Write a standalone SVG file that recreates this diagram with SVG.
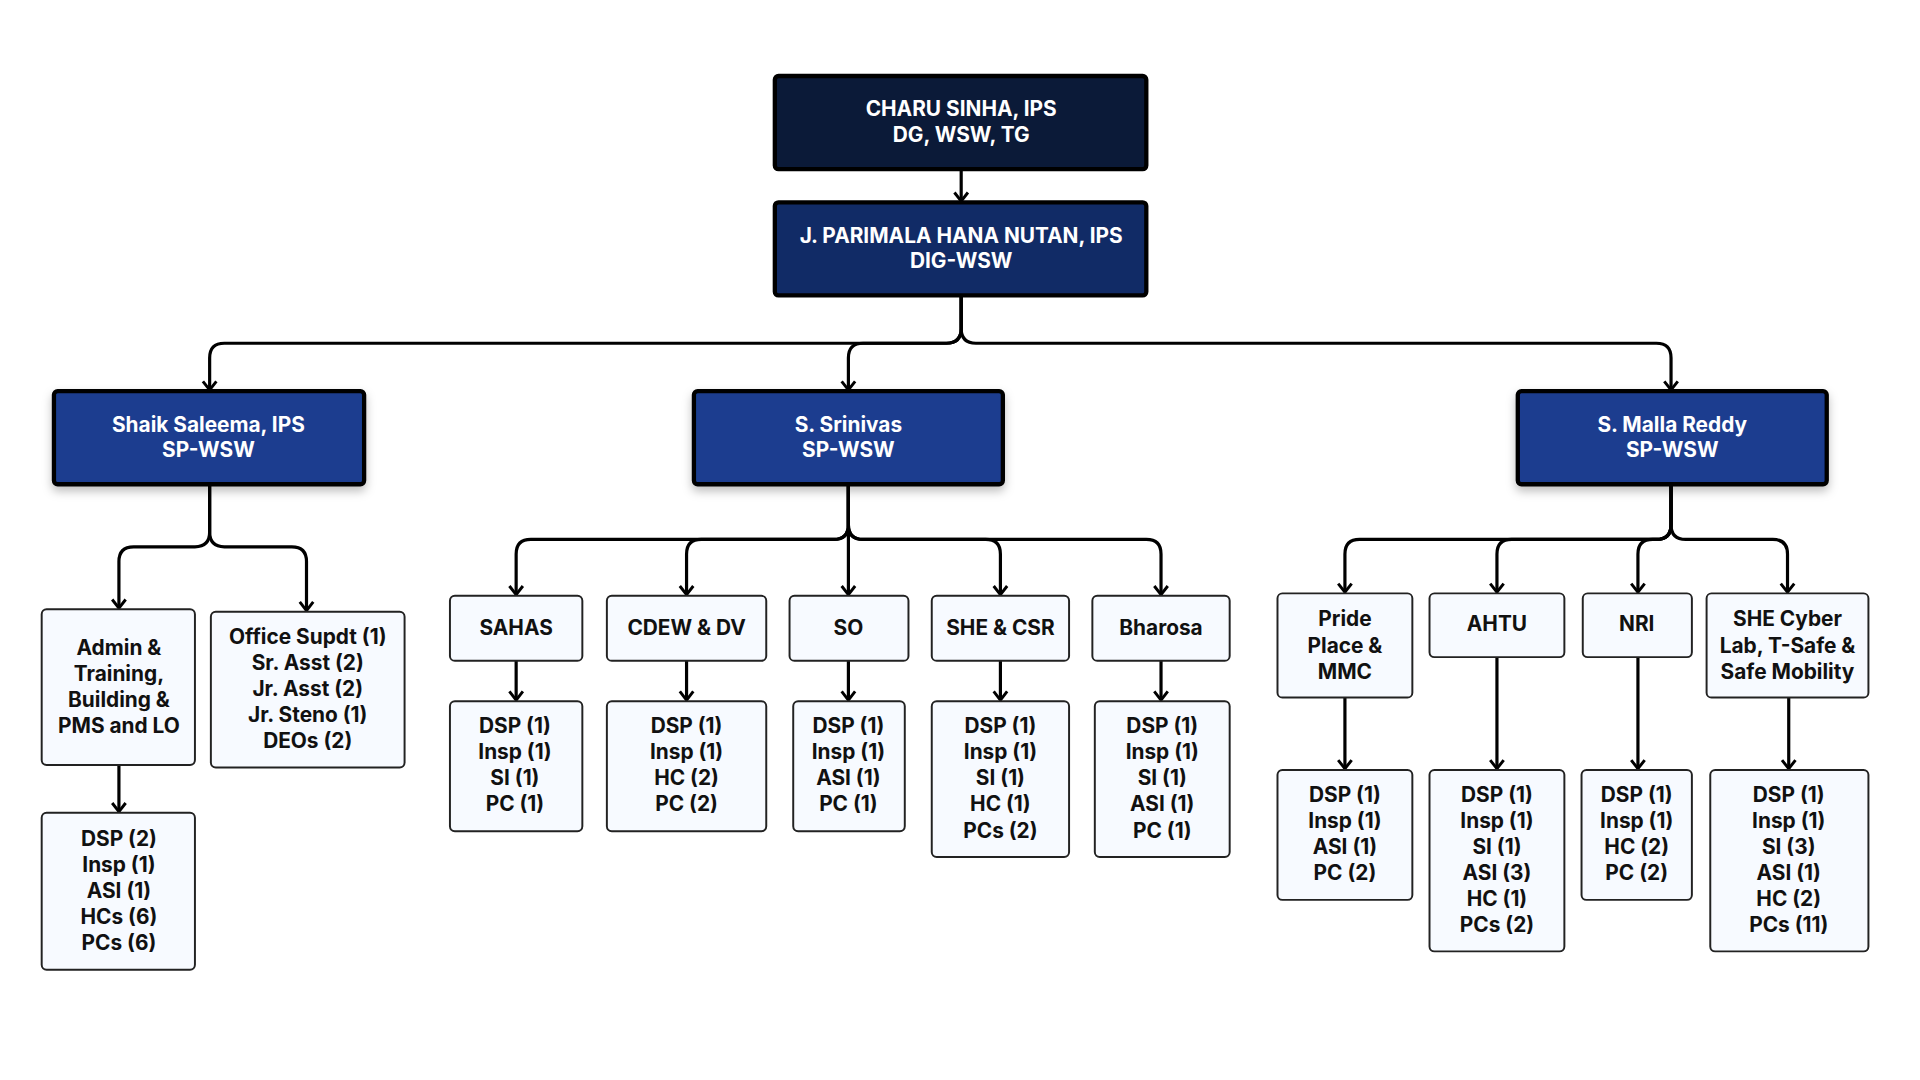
<svg xmlns="http://www.w3.org/2000/svg" width="1920" height="1080" viewBox="0 0 1920 1080">
<defs>
<style>
text{font-family:Inter,"Noto Sans","Liberation Sans",sans-serif;font-weight:700;font-size:17px;text-anchor:middle}
.w{fill:#fff}
.k{fill:#111}
.top{stroke:#000;stroke-width:3.5}
.sp{fill:#1a3e8f;stroke:#000;stroke-width:3.5}
.bx{fill:#f7faff;stroke:#222;stroke-width:1.6}
.c{fill:none;stroke:#000;stroke-width:2.6;marker-end:url(#ah)}
</style>
<marker id="ah" markerUnits="userSpaceOnUse" markerWidth="14" markerHeight="14" refX="0" refY="0" viewBox="-8 -7 10 14" orient="auto">
<path d="M-7,-5.5 L0,0 L-7,5.5" fill="none" stroke="#000" stroke-width="2.4"/>
</marker>
<filter id="sh" x="-10%" y="-10%" width="130%" height="140%"><feDropShadow dx="0" dy="4" stdDeviation="4" flood-opacity="0.25"/></filter>
</defs>
<rect width="1920" height="1080" fill="#fff"/>
<g transform="scale(1.226)">
<g id="connectors">
<path class="c" d="M784,138 V164"/>
<path class="c" d="M784,241 V268 Q784,280 772,280 H183 Q171,280 171,292 V318"/>
<path class="c" d="M784,241 V268 Q784,280 772,280 H704 Q692,280 692,292 V318"/>
<path class="c" d="M784,241 V268 Q784,280 796,280 H1351 Q1363,280 1363,292 V318"/>
<path class="c" d="M171,396 V434 Q171,446 159,446 H109 Q97,446 97,458 V496"/>
<path class="c" d="M171,396 V434 Q171,446 183,446 H238 Q250,446 250,458 V498"/>
<path class="c" d="M97,624 V662"/>
<path class="c" d="M692,396 V428 Q692,440 680,440 H433 Q421,440 421,452 V485"/>
<path class="c" d="M692,396 V428 Q692,440 680,440 H572 Q560,440 560,452 V485"/>
<path class="c" d="M692,396 V485"/>
<path class="c" d="M692,396 V428 Q692,440 704,440 H804 Q816,440 816,452 V485"/>
<path class="c" d="M692,396 V428 Q692,440 704,440 H935 Q947,440 947,452 V485"/>
<path class="c" d="M421,539 V571"/>
<path class="c" d="M560,539 V571"/>
<path class="c" d="M692,539 V571"/>
<path class="c" d="M816,539 V571"/>
<path class="c" d="M947,539 V571"/>
<path class="c" d="M1363,396 V428 Q1363,440 1351,440 H1109 Q1097,440 1097,452 V483"/>
<path class="c" d="M1363,396 V428 Q1363,440 1351,440 H1233 Q1221,440 1221,452 V483"/>
<path class="c" d="M1363,396 V428 Q1363,440 1351,440 H1348 Q1336,440 1336,452 V483"/>
<path class="c" d="M1363,396 V428 Q1363,440 1375,440 H1446 Q1458,440 1458,452 V483"/>
<path class="c" d="M1097,569 V627"/>
<path class="c" d="M1221,536 V627"/>
<path class="c" d="M1336,536 V627"/>
<path class="c" d="M1459,569 V627"/>
</g>
<g id="dg"><rect x="632" y="62" width="303" height="76" rx="3" fill="#0b1a38" class="top"/>
<text class="w" x="784" y="95">CHARU SINHA, IPS<tspan x="784" dy="21">DG, WSW, TG</tspan></text></g>
<g id="dig"><rect x="632" y="165" width="303" height="76" rx="3" fill="#112b66" class="top"/>
<text class="w" x="784" y="198">J. PARIMALA HANA NUTAN, IPS<tspan x="784" dy="21">DIG-WSW</tspan></text></g>
<g id="sp1"><rect x="44" y="319" width="253" height="76" rx="3" class="sp" filter="url(#sh)"/>
<text class="w" x="170" y="352">Shaik Saleema, IPS<tspan x="170" dy="21">SP-WSW</tspan></text></g>
<g id="sp2"><rect x="566" y="319" width="252" height="76" rx="3" class="sp" filter="url(#sh)"/>
<text class="w" x="692" y="352">S. Srinivas<tspan x="692" dy="21">SP-WSW</tspan></text></g>
<g id="sp3"><rect x="1238" y="319" width="252" height="76" rx="3" class="sp" filter="url(#sh)"/>
<text class="w" x="1364" y="352">S. Malla Reddy<tspan x="1364" dy="21">SP-WSW</tspan></text></g>

<g id="admin"><rect x="34" y="497" width="125" height="127" rx="4" class="bx"/>
<text class="k" x="97" y="534">Admin &amp;<tspan x="97" dy="21.3">Training,</tspan><tspan x="97" dy="21.3">Building &amp;</tspan><tspan x="97" dy="21.3">PMS and LO</tspan></text></g>
<g id="office"><rect x="172" y="499" width="158" height="127" rx="4" class="bx"/>
<text class="k" x="251" y="525">Office Supdt (1)<tspan x="251" dy="21.3">Sr. Asst (2)</tspan><tspan x="251" dy="21.3">Jr. Asst (2)</tspan><tspan x="251" dy="21.3">Jr. Steno (1)</tspan><tspan x="251" dy="21.3">DEOs (2)</tspan></text></g>
<g id="admin-staff"><rect x="34" y="663" width="125" height="128" rx="4" class="bx"/>
<text class="k" x="97" y="690">DSP (2)<tspan x="97" dy="21.3">Insp (1)</tspan><tspan x="97" dy="21.3">ASI (1)</tspan><tspan x="97" dy="21.3">HCs (6)</tspan><tspan x="97" dy="21.3">PCs (6)</tspan></text></g>

<g id="sahas"><rect x="367" y="486" width="108" height="53" rx="4" class="bx"/><text class="k" x="421" y="518">SAHAS</text></g>
<g id="cdew"><rect x="495" y="486" width="130" height="53" rx="4" class="bx"/><text class="k" x="560" y="518">CDEW &amp; DV</text></g>
<g id="so"><rect x="644" y="486" width="97" height="53" rx="4" class="bx"/><text class="k" x="692" y="518">SO</text></g>
<g id="shecsr"><rect x="760" y="486" width="112" height="53" rx="4" class="bx"/><text class="k" x="816" y="518">SHE &amp; CSR</text></g>
<g id="bharosa"><rect x="891" y="486" width="112" height="53" rx="4" class="bx"/><text class="k" x="947" y="518">Bharosa</text></g>

<g id="sahas-staff"><rect x="367" y="572" width="108" height="106" rx="4" class="bx"/>
<text class="k" x="420" y="598">DSP (1)<tspan x="420" dy="21.3">Insp (1)</tspan><tspan x="420" dy="21.3">SI (1)</tspan><tspan x="420" dy="21.3">PC (1)</tspan></text></g>
<g id="cdew-staff"><rect x="495" y="572" width="130" height="106" rx="4" class="bx"/>
<text class="k" x="560" y="598">DSP (1)<tspan x="560" dy="21.3">Insp (1)</tspan><tspan x="560" dy="21.3">HC (2)</tspan><tspan x="560" dy="21.3">PC (2)</tspan></text></g>
<g id="so-staff"><rect x="647" y="572" width="91" height="106" rx="4" class="bx"/>
<text class="k" x="692" y="598">DSP (1)<tspan x="692" dy="21.3">Insp (1)</tspan><tspan x="692" dy="21.3">ASI (1)</tspan><tspan x="692" dy="21.3">PC (1)</tspan></text></g>
<g id="shecsr-staff"><rect x="760" y="572" width="112" height="127" rx="4" class="bx"/>
<text class="k" x="816" y="598">DSP (1)<tspan x="816" dy="21.3">Insp (1)</tspan><tspan x="816" dy="21.3">SI (1)</tspan><tspan x="816" dy="21.3">HC (1)</tspan><tspan x="816" dy="21.3">PCs (2)</tspan></text></g>
<g id="bharosa-staff"><rect x="893" y="572" width="110" height="127" rx="4" class="bx"/>
<text class="k" x="948" y="598">DSP (1)<tspan x="948" dy="21.3">Insp (1)</tspan><tspan x="948" dy="21.3">SI (1)</tspan><tspan x="948" dy="21.3">ASI (1)</tspan><tspan x="948" dy="21.3">PC (1)</tspan></text></g>

<g id="pride"><rect x="1042" y="484" width="110" height="85" rx="4" class="bx"/>
<text class="k" x="1097" y="511">Pride<tspan x="1097" dy="21.3">Place &amp;</tspan><tspan x="1097" dy="21.3">MMC</tspan></text></g>
<g id="ahtu"><rect x="1166" y="484" width="110" height="52" rx="4" class="bx"/><text class="k" x="1221" y="515">AHTU</text></g>
<g id="nri"><rect x="1291" y="484" width="89" height="52" rx="4" class="bx"/><text class="k" x="1335" y="515">NRI</text></g>
<g id="shecyber"><rect x="1392" y="484" width="132" height="85" rx="4" class="bx"/>
<text class="k" x="1458" y="511">SHE Cyber<tspan x="1458" dy="21.3">Lab, T-Safe &amp;</tspan><tspan x="1458" dy="21.3">Safe Mobility</tspan></text></g>

<g id="pride-staff"><rect x="1042" y="628" width="110" height="106" rx="4" class="bx"/>
<text class="k" x="1097" y="654">DSP (1)<tspan x="1097" dy="21.3">Insp (1)</tspan><tspan x="1097" dy="21.3">ASI (1)</tspan><tspan x="1097" dy="21.3">PC (2)</tspan></text></g>
<g id="ahtu-staff"><rect x="1166" y="628" width="110" height="148" rx="4" class="bx"/>
<text class="k" x="1221" y="654">DSP (1)<tspan x="1221" dy="21.3">Insp (1)</tspan><tspan x="1221" dy="21.3">SI (1)</tspan><tspan x="1221" dy="21.3">ASI (3)</tspan><tspan x="1221" dy="21.3">HC (1)</tspan><tspan x="1221" dy="21.3">PCs (2)</tspan></text></g>
<g id="nri-staff"><rect x="1290" y="628" width="90" height="106" rx="4" class="bx"/>
<text class="k" x="1335" y="654">DSP (1)<tspan x="1335" dy="21.3">Insp (1)</tspan><tspan x="1335" dy="21.3">HC (2)</tspan><tspan x="1335" dy="21.3">PC (2)</tspan></text></g>
<g id="shecyber-staff"><rect x="1395" y="628" width="129" height="148" rx="4" class="bx"/>
<text class="k" x="1459" y="654">DSP (1)<tspan x="1459" dy="21.3">Insp (1)</tspan><tspan x="1459" dy="21.3">SI (3)</tspan><tspan x="1459" dy="21.3">ASI (1)</tspan><tspan x="1459" dy="21.3">HC (2)</tspan><tspan x="1459" dy="21.3">PCs (11)</tspan></text></g>
</g>
</svg>
